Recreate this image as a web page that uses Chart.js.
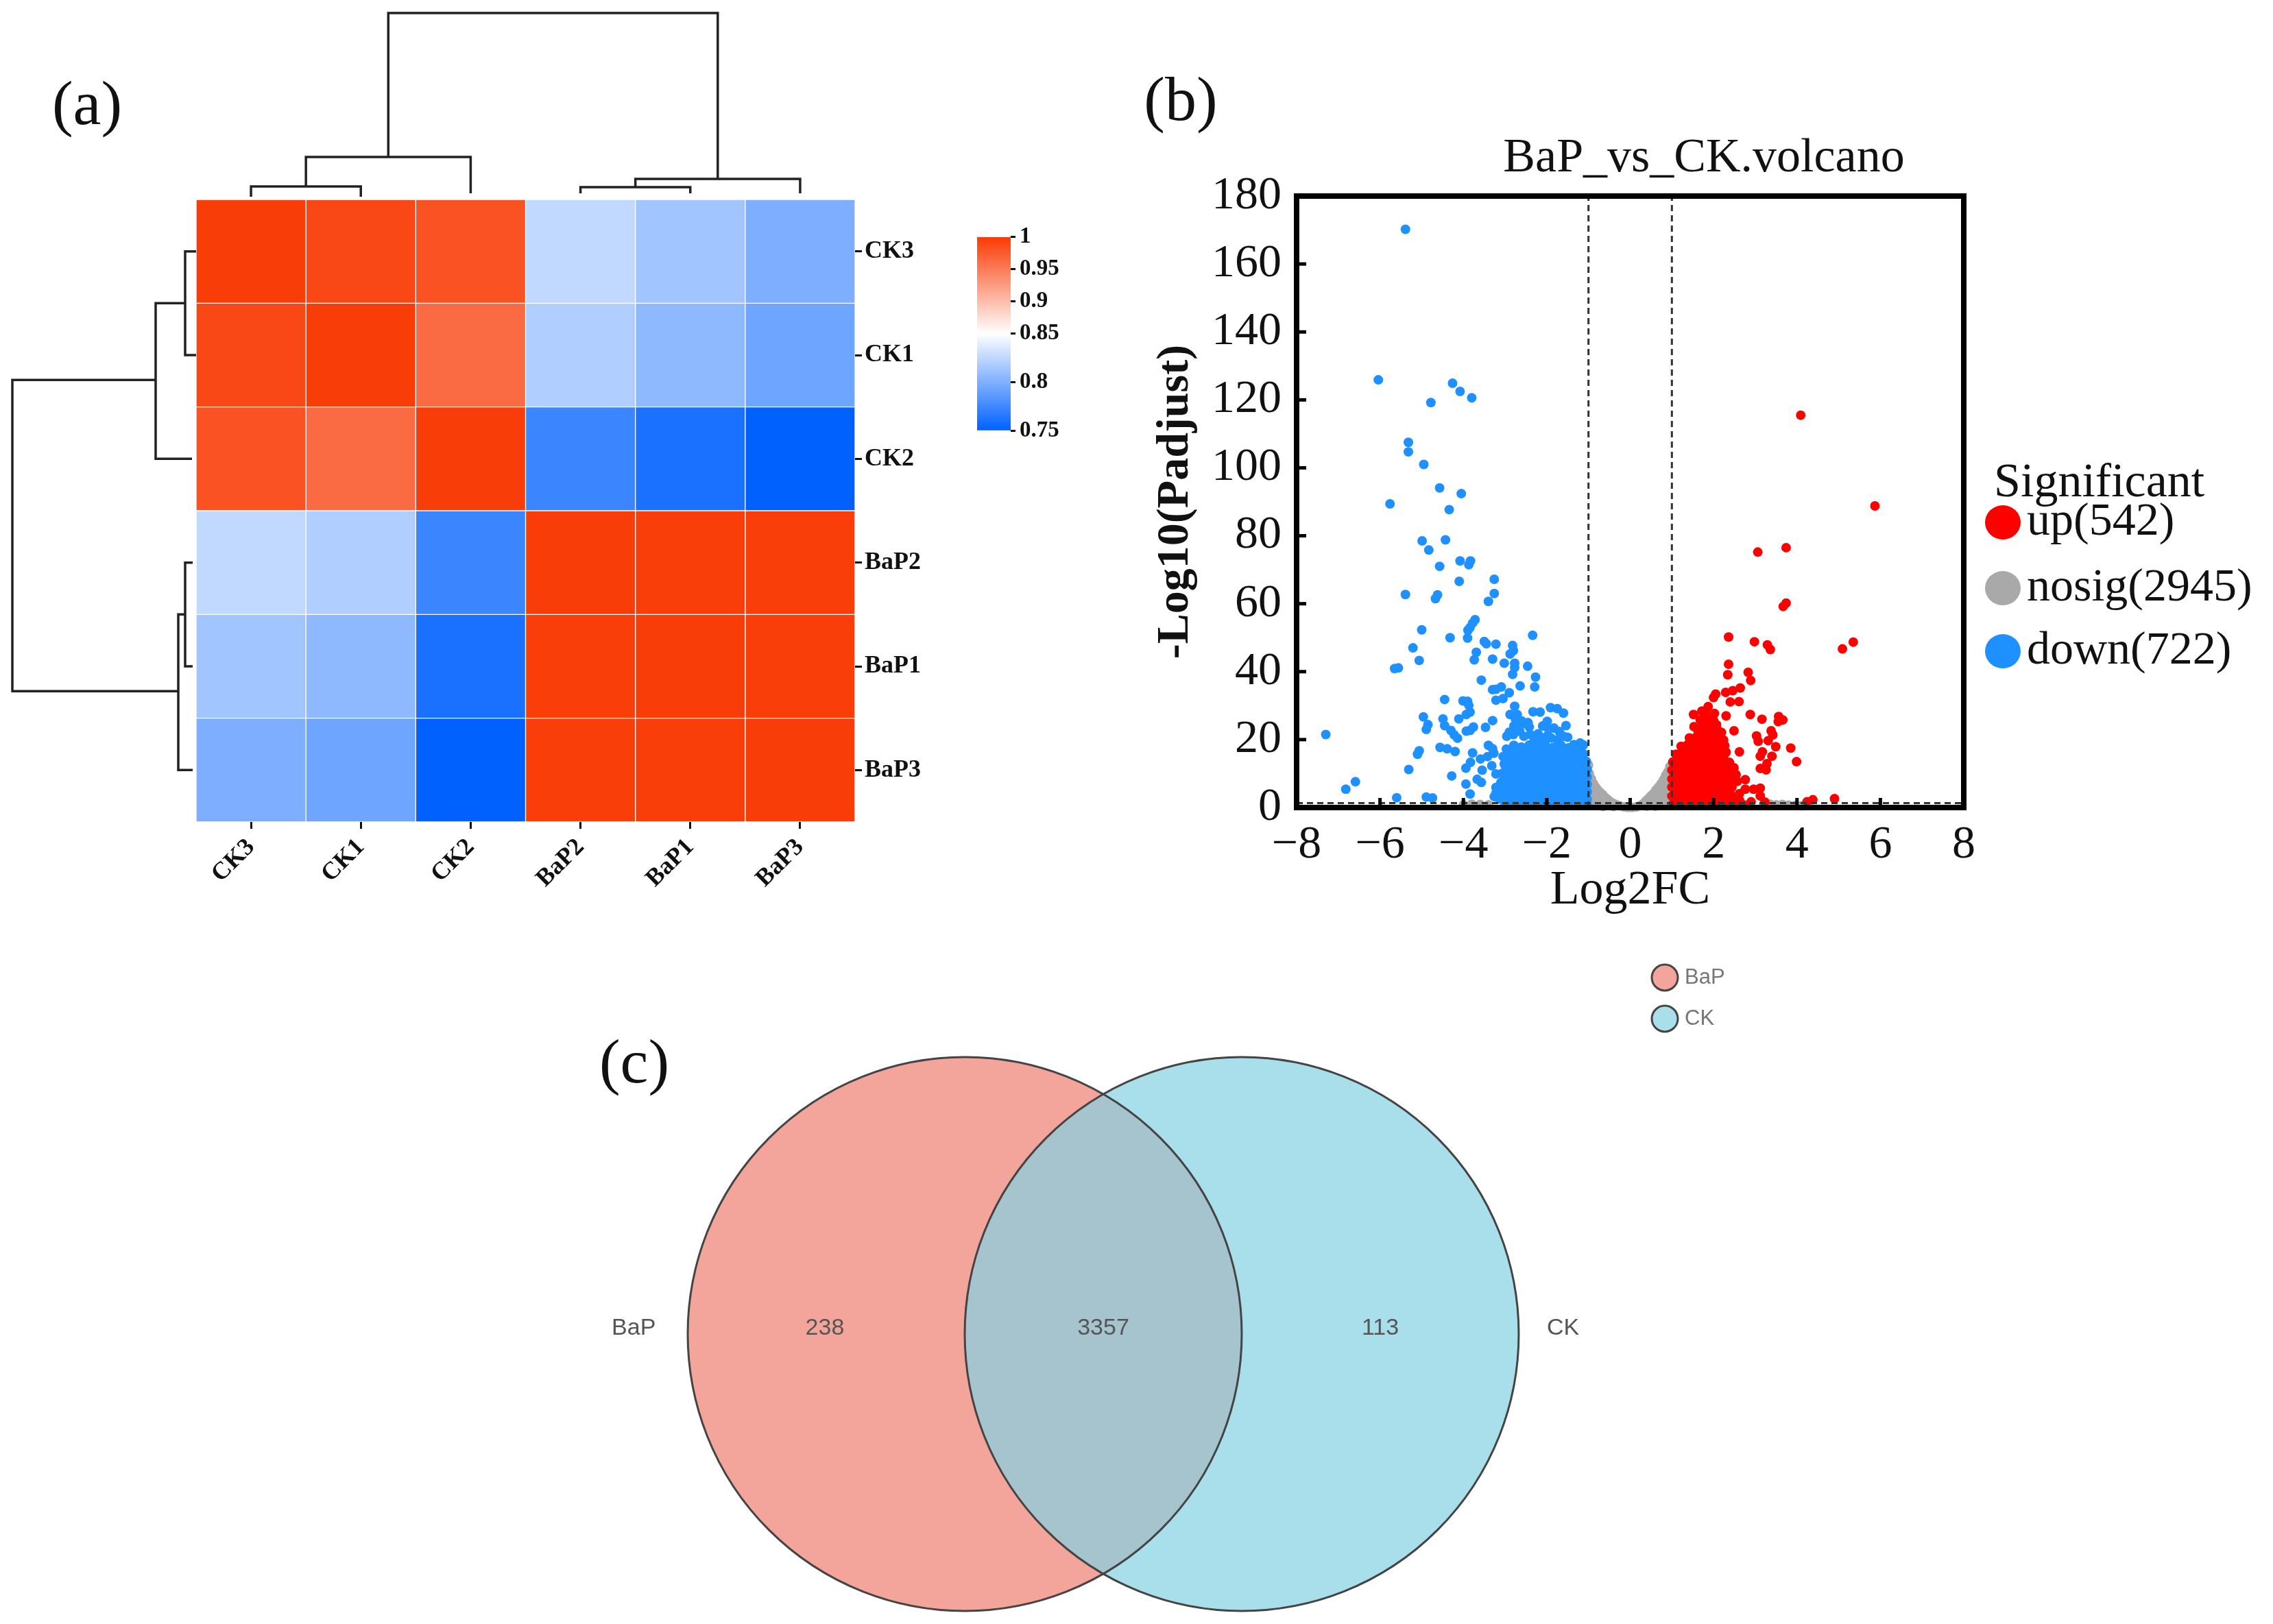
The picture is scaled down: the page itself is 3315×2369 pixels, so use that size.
<!DOCTYPE html>
<html><head><meta charset="utf-8">
<script src="https://cdn.jsdelivr.net/npm/chart.js@4"></script>
<style>
html,body{margin:0;padding:0;background:#fff;width:3315px;height:2369px;overflow:hidden}
canvas{position:absolute;display:block}
.panel{position:absolute;font:92px "Liberation Serif",serif;color:#111;transform:translate(-50%,-50%);line-height:1}
</style></head><body>
<div class="panel" style="left:127px;top:150px">(a)</div>
<div class="panel" style="left:1722px;top:144px">(b)</div>
<div class="panel" style="left:925px;top:1548px">(c)</div>
<canvas id="dTop" width="961" height="291" style="left:286px;top:0"></canvas>
<canvas id="dLeft" width="286" height="908" style="left:0;top:291px"></canvas>
<canvas id="heat" width="1114" height="1089" style="left:286px;top:261px"></canvas>
<canvas id="cbar" width="149" height="340" style="left:1425px;top:320px"></canvas>
<canvas id="volcano" width="1660" height="1195" style="left:1655px;top:155px"></canvas>
<canvas id="venn" width="1760" height="989" style="left:800px;top:1380px"></canvas>
<script>
// ---------- panel (a) data ----------
const colNames = ['CK3','CK1','CK2','BaP2','BaP1','BaP3'];
const rowNames = ['CK3','CK1','CK2','BaP2','BaP1','BaP3'];
const rowCK3  = [0.998,0.990,0.982,0.826,0.813,0.799];
const rowCK1  = [0.990,0.998,0.9625,0.819,0.806,0.793];
const rowCK2  = [0.982,0.9625,0.998,0.773,0.760,0.750];
const rowBaP2 = [0.826,0.819,0.773,0.998,0.997,0.997];
const rowBaP1 = [0.813,0.806,0.760,0.997,0.998,0.997];
const rowBaP3 = [0.799,0.793,0.750,0.997,0.997,0.998];
const colorTicks = [1,0.95,0.9,0.85,0.8,0.75];
// dendrogram paths: [position, merge height] vertices
const topTree = [
  [[0.5,4],[0.5,19],[1.5,19],[1.5,4]],
  [[1,19],[1,62],[2.5,62],[2.5,9]],
  [[3.5,9],[3.5,18],[4.5,18],[4.5,9]],
  [[4,18],[4,30],[5.5,30],[5.5,9]],
  [[1.75,62],[1.75,272],[4.75,272],[4.75,30]]
];
const leftTree = [
  [[0.5,0],[0.5,16],[1.5,16],[1.5,0]],
  [[1,16],[1,59],[2.5,59],[2.5,6]],
  [[3.5,5],[3.5,16],[4.5,16],[4.5,5]],
  [[4,16],[4,26],[5.5,26],[5.5,5]],
  [[1.74,59],[1.74,268],[4.74,268],[4.74,26]]
];
// ---------- panel (b) data ----------
const xTicks = [-8,-6,-4,-2,0,2,4,6,8];
const yTicks = [0,20,40,60,80,100,120,140,160,180];
const xThresholds = [-1,1];
const yThreshold = 1.3;
const legendNames = ['up','nosig','down'];
const legendCounts = [542,2945,722];
const downPts = [
[-5.39,170.2],[-6.04,125.9],[-4.26,124.9],[-4.08,122.5],[-3.80,120.6],[-4.78,119.2],[-5.32,107.5],[-5.32,104.7],[-4.95,101],[-4.57,94.1],[-4.05,92.4],[-5.76,89.4],[-4.34,87.7],[-4.99,78.5],[-4.43,78.8],[-4.83,75.8],[-4.57,71],[-4.08,72.6],[-3.83,72.6],[-3.87,71.5],[-4.10,66.6],[-3.26,67.2],[-5.39,62.7],[-4.62,62.6],[-4.67,61.5],[-3.26,63],[-3.40,60.7],
[-3.72,55.3],[-3.78,54.3],[-3.84,53],[-3.89,52.2],[-5.00,52.3],[-2.34,50.7],[-4.32,50],[-3.90,49.9],[-3.50,48.9],[-3.45,48.2],[-3.22,48.1],[-2.82,47.7],[-5.21,47],[-2.80,46.2],[-2.88,45.2],[-3.69,45.7],[-3.74,43.5],[-3.30,43.7],[-5.06,43.3],[-3.02,42.5],[-2.77,42.5],[-2.77,41.2],[-2.46,41.6],[-5.65,40.9],[-5.56,41.1],[-2.82,39.2],[-2.27,38.4],[-3.57,37.5],[-2.64,35.8],[-2.29,35.5],[-3.09,35.5],[-3.30,34.7],[-3.22,34.8],[-2.90,33.8],[-3.05,32.1],[-3.22,31.6],[-4.45,31.8],[-4.01,31.4],[-3.9,31.3],[-3.87,30.1],[-3.84,28.1],[-3.93,27.4],[-2.77,29.8],[-2.88,27.4],[-2.71,27.4],[-2.33,28.2],[-2.16,28.1],[-1.91,29.4],[-1.75,29.1],[-1.6,27.8],[-4.96,26.7],[-4.11,26.1],[-3.30,25.6],[-4.49,26.1],[-4.45,24.1],[-4.85,24.4],[-4.89,23],[-4.3,22.7],[-4.22,21.4],[-4.14,20.4],[-3.76,23.7],[-3.84,22.7],[-3.93,22.5],[-3.47,23.6],[-2.79,24],[-2.54,24.7],[-2.42,23.7],[-1.99,25.4],[-1.54,24.1],[-1.83,23.4],[-1.7,22.4],[-2.21,21.7],[-2.96,21],[-1.5,20.7],[-4.56,17.7],[-4.39,17.3],[-4.2,16.5],[-5.06,16.7],[-5.1,15.7],[-3.78,16.1],[-3.4,18.3],[-3.3,17.3],[-3.27,16],[-3.42,15],[-3.59,14.3],[-3.83,13.3],[-3.94,11.6],[-3.32,12.3],[-5.31,11.2],[-3.55,11],[-3.22,9.9],[-4.28,9.3],[-6.59,7.6],[-6.82,5.4],[-3.67,8.3],[-3.57,7.4],[-3.94,6.9],[-3.22,5.9],[-3.22,4.2],[-3.84,4],[-3.26,3.2],[-5.6,2.9],[-4.89,3.1],[-4.74,2.8],[-7.30,21.5],
[-2.9,22.2],[-2.8,21.5],[-2.65,22.5],[-2.55,21],[-2.4,21.5],[-2.3,19.6],[-2.15,20.2],[-2.0,21],[-1.9,20.5],[-1.75,20],[-1.6,21],[-2.75,26],[-2.6,25.5],[-2.45,25],[-2.7,23.5],[-2.1,24],[-1.95,23],[-1.35,18.5],[-1.2,19],[-1.12,18.4],
[-2.97,17.2],[-2.79,18.3],[-2.61,17.8],[-2.42,18.4],[-2.23,17.9],[-2.04,18.6],[-1.85,17.7],[-1.66,18.3],[-1.47,17.6],[-1.3,17.2],[-1.12,15.8],
[-3.05,15],[-2.88,15.4],[-2.7,14.8],[-2.52,15.6],[-2.33,15],[-2.14,15.3],[-1.95,14.7],[-1.76,15.5],[-1.57,15],[-1.39,15.4],[-1.21,14.8],[-1.05,13.6],
[-3.02,12.8],[-2.84,12.2],[-2.66,12.9],[-2.47,12.3],[-2.28,12.7],[-2.09,12.1],[-1.9,12.8],[-1.71,12.3],[-1.52,12.7],[-1.33,12.2],[-1.15,12.6],[-1.03,11.2],
[-3.08,10],[-2.9,9.7],[-2.71,10.3],[-2.53,9.8],[-2.34,10.2],[-2.15,9.6],[-1.96,10.1],[-1.77,9.7],[-1.58,10.2],[-1.39,9.6],[-1.2,10.1],[-1.03,9],
[-3.1,7.4],[-2.93,7.9],[-2.75,7.2],[-2.57,7.8],[-2.38,7.3],[-2.19,7.7],[-2,7.2],[-1.81,7.7],[-1.62,7.3],[-1.43,7.8],[-1.24,7.2],[-1.03,6.8],
[-3.12,5],[-2.96,4.6],[-2.78,5.2],[-2.6,4.7],[-2.42,5.1],[-2.23,4.6],[-2.04,5.1],[-1.85,4.7],[-1.66,5.2],[-1.47,4.6],[-1.28,5.1],[-1.03,4.6],
[-3.14,2.5],[-2.99,2.2],[-2.82,2.8],[-2.64,2.3],[-2.45,2.7],[-2.27,2.2],[-2.08,2.7],[-1.89,2.3],[-1.7,2.8],[-1.51,2.2],[-1.32,2.7],[-1.13,2.2],[-1.03,2.4],
[-3.0,0.9],[-2.85,0.7],[-2.68,1],[-2.5,0.6],[-2.32,0.9],[-2.13,0.7],[-1.94,1],[-1.75,0.6],[-1.56,0.9],[-1.37,0.7],[-1.18,1],[-1.03,0.7],
[-2.88,16.4],[-2.7,16.6],[-2.52,16.5],[-2.33,16.7],[-2.14,16.5],[-1.95,16.6],[-1.76,16.6],[-1.57,16.4],[-1.38,16.3],[-1.2,16.4],
[-2.95,14],[-2.78,13.7],[-2.6,14],[-2.42,13.7],[-2.23,13.9],[-2.04,13.7],[-1.85,14],[-1.66,13.8],[-1.47,14],[-1.28,13.7],[-1.1,13.9],
[-2.98,11.4],[-2.8,11.1],[-2.62,11.5],[-2.43,11.1],[-2.24,11.4],[-2.05,11],[-1.86,11.4],[-1.67,11],[-1.48,11.4],[-1.29,11],[-1.1,11.3],
[-3,8.7],[-2.82,8.9],[-2.62,8.7],[-2.44,9],[-2.25,8.7],[-2.06,8.9],[-1.87,8.6],[-1.68,8.9],[-1.49,8.7],[-1.3,9],[-1.11,8.6],
[-3.03,6.2],[-2.85,6.5],[-2.66,6.1],[-2.48,6.5],[-2.29,6.1],[-2.1,6.4],[-1.91,6],[-1.72,6.4],[-1.53,6.1],[-1.34,6.5],[-1.14,6],
[-3.05,3.7],[-2.88,3.5],[-2.7,3.9],[-2.51,3.5],[-2.33,3.9],[-2.14,3.4],[-1.95,3.9],[-1.76,3.5],[-1.57,3.9],[-1.38,3.4],[-1.18,3.8],
[-2.92,1.6],[-2.75,1.4],[-2.58,1.7],[-2.4,1.4],[-2.22,1.7],[-2.03,1.4],[-1.84,1.7],[-1.65,1.4],[-1.46,1.7],[-1.27,1.4],[-1.09,1.6]
];
const upPts = [
[4.09,115.5],[5.87,88.8],[3.06,75.2],[3.74,76.5],[3.67,59.2],[3.74,60.2],[2.36,50.2],[2.98,48.8],[3.29,47.9],[3.36,46.5],[5.09,46.7],[5.35,48.7],
[2.36,42.2],[2.34,39.1],[2.83,39.8],[2.89,37.4],[2.64,35.2],[2.46,34.4],[2.29,33.9],[2.05,33.4],[2.0,32.4],[2.4,31.1],[2.61,31.2],[1.87,29.7],[1.72,28.4],[1.52,27.4],[2.02,27.7],[2.3,27],[2.88,27.4],[3.16,26],[3.56,26.8],[3.66,25.8],[3.55,25.3],[2.07,24.4],[1.75,24.1],[1.53,23.8],[2.49,22.6],[3.38,22.6],[3.42,21.4],[3.03,21.1],[3.07,19.5],[3.31,19.7],[2.19,22.1],[3.49,17.9],[3.85,17.5],[2.62,16.4],[3.17,16.4],[3.12,15.1],[3.4,15.1],[3.99,13.5],[3.28,12.9],[3.12,11.5],[3.26,11.1],[2.49,11.7],[2.54,9.7],[2.57,7.7],[2.76,8.2],[3.12,5.7],[2.96,5.4],[2.76,5.4],[2.62,4.1],[2.57,3.1],[3.12,3.4],[2.9,1.7],[3.23,1.6],[4.24,1.7],[4.38,2.3],[4.9,2.6],
[1.02,1],[1.2,0.7],[1.39,1.1],[1.58,0.7],[1.77,1],[1.96,0.6],[2.15,1],[2.34,0.7],[2.52,1.1],[2.72,0.8],
[1.0,3.4],[1.18,3.8],[1.36,3.2],[1.55,3.7],[1.74,3.3],[1.93,3.8],[2.12,3.2],[2.31,3.7],[2.47,3.1],
[1.0,6],[1.17,5.6],[1.35,6.2],[1.53,5.7],[1.72,6.1],[1.91,5.6],[2.1,6.2],[2.29,5.7],[2.44,6],
[1.0,8.4],[1.16,8.7],[1.34,8.2],[1.52,8.8],[1.7,8.3],[1.89,8.7],[2.08,8.2],[2.27,8.7],[2.42,8.3],
[1.0,11],[1.16,10.6],[1.33,11.2],[1.51,10.7],[1.69,11.1],[1.88,10.6],[2.07,11.2],[2.26,10.7],[2.41,11],
[1.02,13.4],[1.18,13.8],[1.34,13.2],[1.52,13.7],[1.7,13.3],[1.88,13.8],[2.06,13.2],[2.24,13.7],[2.38,13.3],
[1.1,15.7],[1.25,16.2],[1.42,15.8],[1.6,16.3],[1.78,15.7],[1.96,16.2],[2.14,15.8],[2.3,16.3],
[1.22,18],[1.38,18.5],[1.55,18.1],[1.73,18.7],[1.91,18.2],[2.09,18.7],[2.27,18.2],
[1.42,20.5],[1.6,21],[1.78,20.6],[1.96,21.1],[2.14,20.6],[2.24,19.9],
[1.62,23],[1.8,23.5],[1.95,23],[2.1,22.8],
[1.68,25.8],[1.85,26.2],[2.0,25.6],[1.8,28],
[1.1,2.2],[1.28,2],[1.46,2.3],[1.65,2],[1.84,2.3],[2.03,2],[2.22,2.3],[2.41,2],[2.62,2.2],
[1.09,4.7],[1.27,4.5],[1.45,4.8],[1.63,4.5],[1.82,4.8],[2.01,4.5],[2.2,4.8],[2.39,4.5],
[1.08,7.2],[1.26,7],[1.44,7.3],[1.62,7],[1.81,7.3],[2,7],[2.19,7.3],[2.37,7.1],
[1.08,9.7],[1.25,9.5],[1.43,9.8],[1.61,9.5],[1.8,9.8],[1.99,9.5],[2.18,9.8],[2.35,9.6],
[1.08,12.2],[1.25,12],[1.43,12.3],[1.61,12],[1.8,12.3],[1.97,12],[2.16,12.3],[2.33,12],
[1.16,14.8],[1.34,14.6],[1.52,14.9],[1.7,14.6],[1.88,14.9],[2.06,14.6],[2.24,14.9],
[1.32,17.1],[1.5,16.9],[1.68,17.2],[1.86,16.9],[2.04,17.2],[2.2,17],
[1.5,19.5],[1.68,19.3],[1.86,19.6],[2.04,19.3],
[1.7,22],[1.88,22.2],[2.02,21.9],[1.74,24.9],[1.92,24.6]
];
const nosigPts = [
[-1.0,12.5],[-0.98,10],[-0.93,8.5],[-0.88,7],[-0.83,6],[-0.78,5.2],[-0.72,4.5],[-0.66,3.8],[-0.6,3],[-0.53,2.3],[-0.47,1.7],[-0.4,1.2],[-0.33,0.8],[-0.25,0.5],[-0.15,0.2],[-0.05,0.05],[0.05,0.05],[0.15,0.2],[0.25,0.6],[0.32,1.2],[0.38,2],[0.45,2.8],[0.5,3.5],[0.57,4.3],[0.62,5.2],[0.68,6],[0.74,7],[0.8,8.2],[0.85,9.5],[0.9,10.5],[0.95,12],[0.97,8],[0.9,6],[0.8,4.5],[0.7,3],[0.6,1.8],[0.5,1],[0.4,0.4],[0.9,3],[0.8,1.8],[0.7,1],[0.6,0.4],[0.95,1],[0.85,0.6],[-0.95,6],[-0.9,4],[-0.8,3],[-0.7,2],[-0.6,1],[-0.5,0.6],[-0.95,2.5],[-0.85,1.2],[-0.75,0.7],[-0.95,0.8],[-0.65,0.3],[-0.4,0.3],[3.2,0.9],[3.35,1],[3.5,0.8],[3.65,0.9],[3.8,0.7],[3.95,0.6],[4.1,0.5],[-4,0.8],[-3.8,1],[-3.6,0.9],[-3.4,0.8]
];
// ---------- panel (c) data ----------
const setNames = ['BaP','CK'];
const setCentres = [-0.5,0.5];
const regionCounts = [238,3357,113];
const regionPositions = [-1.005,0,1];
const setLabelPositions = [-1.695,1.66];

Chart.defaults.animation = false;
Chart.defaults.responsive = false;
Chart.defaults.devicePixelRatio = 1;
Chart.defaults.events = [];
Chart.defaults.plugins.legend.display = false;
Chart.defaults.plugins.tooltip.enabled = false;
const SERIF = '"Liberation Serif",serif';
const SANS = '"Liberation Sans",sans-serif';
const INK = '#111';
const toXY = a => a.map(p => ({x:p[0],y:p[1]}));

const BLUE=[0,97,255], RED=[249,58,5], WHITE=[255,255,255];
function heatColor(v){
  const low = v<=0.85, t = low ? (v-0.75)/0.1 : (v-0.85)/0.15;
  const a = low?BLUE:WHITE, b = low?WHITE:RED;
  return `rgb(${a.map((c,i)=>Math.round(c+(b[i]-c)*t)).join(',')})`;
}
const barPos = v => v<=0.85 ? (v-0.75)/0.1*0.5 : 0.5+(v-0.85)/0.15*0.5;

function treeChart(id,paths,horizontalRoot,xOpt,yOpt){
  new Chart(document.getElementById(id),{
    type:'scatter',
    data:{datasets:paths.map(p=>({
      data:p.map(q=>horizontalRoot?{x:q[0],y:q[1]}:{x:q[1],y:q[0]}),
      showLine:true,borderColor:'#222',borderWidth:3.5,pointRadius:0,clip:false,tension:0
    }))},
    options:{layout:{autoPadding:false},scales:{x:{display:false,...xOpt},y:{display:false,...yOpt}}}
  });
}
treeChart('dTop',topTree,true,{min:0,max:6},{min:0,max:291});
treeChart('dLeft',leftTree,false,{min:0,max:286,reverse:true},{min:0,max:6,reverse:true});

const heatRows=[rowCK3,rowCK1,rowCK2,rowBaP2,rowBaP1,rowBaP3];
const tickGrid={display:true,drawOnChartArea:false,drawTicks:true,tickLength:10,tickColor:INK,tickWidth:3};
new Chart(document.getElementById('heat'),{
  type:'bar',
  data:{labels:colNames,datasets:heatRows.map((r,i)=>({
    label:rowNames[i],data:r.map(()=>1),backgroundColor:r.map(heatColor),
    borderColor:'rgba(255,255,255,0.4)',borderWidth:1,borderSkipped:false,
    barPercentage:1,categoryPercentage:1
  }))},
  options:{
    layout:{autoPadding:false,padding:{top:30}},
    scales:{
      x:{stacked:true,grid:{...tickGrid,offset:false},border:{display:false},
        ticks:{font:{family:SERIF,size:36,weight:'bold'},color:INK,minRotation:45,maxRotation:45,padding:6,autoSkip:false},
        afterFit:s=>{s.height=151;}},
      y:{stacked:true,position:'right',min:0,max:6,reverse:true,grid:tickGrid,border:{display:false},
        afterBuildTicks:s=>{s.ticks=rowNames.map((n,i)=>({value:i+0.5}));},
        ticks:{font:{family:SERIF,size:36,weight:'bold'},color:INK,padding:4,autoSkip:false,callback:(v,i)=>rowNames[i]},
        afterFit:s=>{s.width=153;}}
    }
  }
});

new Chart(document.getElementById('cbar'),{
  type:'bar',
  data:{labels:['r'],datasets:[{data:[[0,1]],barPercentage:1,categoryPercentage:1,borderSkipped:false,
    backgroundColor:c=>{
      const a=c.chart.chartArea; if(!a) return '#fff';
      const g=c.chart.ctx.createLinearGradient(0,a.bottom,0,a.top);
      g.addColorStop(0,heatColor(0.75));g.addColorStop(0.5,heatColor(0.85));g.addColorStop(1,heatColor(1));
      return g;
    }}]},
  options:{
    layout:{autoPadding:false,padding:{top:24,bottom:32}},
    scales:{
      x:{display:false},
      y:{position:'right',min:0,max:1,grid:{...tickGrid,tickLength:7},border:{display:false},
        afterBuildTicks:s=>{s.ticks=colorTicks.map(v=>({value:barPos(v)}));},
        ticks:{font:{family:SERIF,size:33,weight:'bold'},color:INK,padding:6,autoSkip:false,callback:(v,i)=>String(colorTicks[i])},
        afterFit:s=>{s.width=100;}}
    }
  }
});

const volcanoExtras={
  id:'volcanoExtras',
  afterDatasetsDraw(ch){
    const {ctx,chartArea:a,scales:{x,y}}=ch;
    ctx.save();
    ctx.strokeStyle='#000';
    ctx.lineWidth=5;
    xTicks.forEach(t=>{const p=x.getPixelForValue(t);ctx.beginPath();ctx.moveTo(p,a.bottom);ctx.lineTo(p,a.bottom-14);ctx.stroke();});
    yTicks.forEach(t=>{const p=y.getPixelForValue(t);ctx.beginPath();ctx.moveTo(a.left,p);ctx.lineTo(a.left+14,p);ctx.stroke();});
    ctx.lineWidth=8;
    ctx.strokeRect(a.left,a.top,a.right-a.left,a.bottom-a.top);
    ctx.restore();
  },
  afterDraw(ch){
    const {ctx}=ch, ox=1655, oy=155;
    const colors=['#ff0000','#a9a9a9','#1e90ff'];
    const rows=[762,858,950];
    ctx.save();
    ctx.fillStyle=INK;ctx.textBaseline='middle';ctx.textAlign='left';
    ctx.font=`70px ${SERIF}`;
    ctx.fillText('Significant',2908-ox,706-oy);
    ctx.font=`68px ${SERIF}`;
    legendNames.forEach((n,i)=>{
      ctx.fillStyle=colors[i];
      ctx.beginPath();ctx.ellipse(2921-ox,rows[i]-oy,26,25,0,0,Math.PI*2);ctx.fill();
      ctx.fillStyle=INK;
      ctx.fillText(`${n}(${legendCounts[i]})`,2956-ox,rows[i]-oy);
    });
    ctx.restore();
  }
};
const thresholdStyle={showLine:true,borderColor:'#333',borderWidth:3,borderDash:[9,6],pointRadius:0,clip:false,tension:0};
const dotStyle={pointRadius:7,pointBorderWidth:0,showLine:false,clip:false};
new Chart(document.getElementById('volcano'),{
  type:'scatter',
  data:{datasets:[
    {...thresholdStyle,data:[{x:xThresholds[0],y:0},{x:xThresholds[0],y:180}]},
    {...thresholdStyle,data:[{x:xThresholds[1],y:0},{x:xThresholds[1],y:180}]},
    {...thresholdStyle,data:[{x:-8,y:yThreshold},{x:8,y:yThreshold}]},
    {...dotStyle,label:'down',data:toXY(downPts),pointBackgroundColor:'#1e90ff'},
    {...dotStyle,label:'up',data:toXY(upPts),pointBackgroundColor:'#ff0000'},
    {...dotStyle,label:'nosig',data:toXY(nosigPts),pointBackgroundColor:'#a9a9a9'}
  ]},
  options:{
    layout:{autoPadding:false},
    plugins:{title:{display:true,text:'BaP_vs_CK.volcano',color:INK,font:{family:SERIF,size:70,weight:'normal'},padding:{top:35,bottom:12}}},
    scales:{
      x:{min:-8,max:8,grid:{display:false},border:{display:false},
        afterBuildTicks:s=>{s.ticks=xTicks.map(v=>({value:v}));},
        ticks:{font:{family:SERIF,size:68},color:INK,padding:6,maxRotation:0,autoSkip:false,callback:v=>String(v).replace('-','\u2212')},
        title:{display:true,text:'Log2FC',color:INK,font:{family:SERIF,size:70},padding:8},
        afterFit:s=>{s.height=172;}},
      y:{min:0,max:180,grid:{display:false},border:{display:false},
        afterBuildTicks:s=>{s.ticks=yTicks.map(v=>({value:v}));},
        ticks:{font:{family:SERIF,size:68},color:INK,padding:14,autoSkip:false},
        title:{display:true,text:'-Log10(Padjust)',color:INK,font:{family:SERIF,size:66,weight:'bold'},padding:20},
        afterFit:s=>{s.width=236;}},
      y2:{position:'right',min:0,max:1,grid:{display:false},border:{display:false},ticks:{display:false},afterFit:s=>{s.width=451;}}
    }
  },
  plugins:[volcanoExtras]
});

const vennXMin=-2.0025, vennXMax=2.354;
const vennUnit=document.getElementById('venn').width/(vennXMax-vennXMin);
const vennFills=['#f4a59b','rgba(131,209,226,0.7)'];
const vennKeys=['#f4a59b','#a8dfeb'];
const vennExtras={
  id:'vennExtras',
  afterDraw(ch){
    const {ctx,scales:{x,y}}=ch, y0=y.getPixelForValue(0.02), ox=800, oy=1380;
    ctx.save();
    ctx.textAlign='center';ctx.textBaseline='middle';ctx.fillStyle='#555';
    ctx.font=`34px ${SANS}`;
    regionCounts.forEach((n,i)=>ctx.fillText(String(n),x.getPixelForValue(regionPositions[i]),y0));
    setNames.forEach((n,i)=>ctx.fillText(n,x.getPixelForValue(setLabelPositions[i]),y0));
    ctx.textAlign='left';ctx.font=`31px ${SANS}`;
    [1426,1486].forEach((py,i)=>{
      ctx.beginPath();ctx.arc(2428-ox,py-oy,19,0,Math.PI*2);
      ctx.fillStyle=vennKeys[i];ctx.fill();ctx.strokeStyle='#444';ctx.lineWidth=3;ctx.stroke();
      ctx.fillStyle='#777';ctx.fillText(setNames[i],2457-ox,py-oy);
    });
    ctx.restore();
  }
};
new Chart(document.getElementById('venn'),{
  type:'bubble',
  data:{datasets:[
    {label:'outline',data:setCentres.map(c=>({x:c,y:0,r:vennUnit})),backgroundColor:'rgba(0,0,0,0)',borderColor:'#444',borderWidth:3,clip:false},
    {label:setNames[1],data:[{x:setCentres[1],y:0,r:vennUnit}],backgroundColor:vennFills[1],borderWidth:0,clip:false},
    {label:setNames[0],data:[{x:setCentres[0],y:0,r:vennUnit}],backgroundColor:vennFills[0],borderWidth:0,clip:false}
  ]},
  options:{layout:{autoPadding:false},scales:{
    x:{display:false,min:vennXMin,max:vennXMax},
    y:{display:false,min:-1.047,max:1.401}
  }},
  plugins:[vennExtras]
});
</script>
</body></html>
